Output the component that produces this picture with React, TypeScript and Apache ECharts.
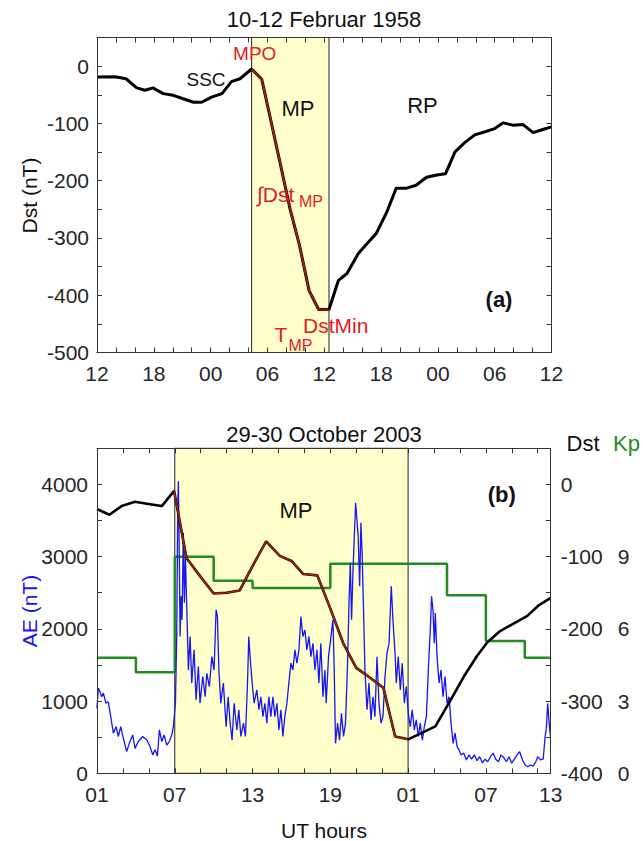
import React, { useEffect, useRef } from 'react';
import * as echarts from 'echarts';

const FONT = '"Liberation Sans", Arial, Helvetica, sans-serif';
const AXIS_COLOR = '#333333';
const LABEL_COLOR = '#262626';
const RED_TEXT = '#e31b23';
const BLUE = '#1515f5';
const GREEN = '#228b22';
const SHADE = '#ffffcc';
const MP_LINE = '#a02018';

// ---------- Panel (a): 10-12 Februar 1958 (hours since 12 UT, 10 Feb) ----------
const febTickLabels = ['12', '18', '00', '06', '12', '18', '00', '06', '12'];
const febMainPhaseHours = [16.33, 24.5];
const febDstBefore: number[][] = [
  [0, -19], [1.9, -18.5], [3.06, -22], [4.2, -38], [5.07, -42], [5.9, -38], [7.0, -48],
  [8.05, -51], [9.1, -57], [10.2, -63], [11.05, -63], [12.1, -54], [13.2, -48], [14.2, -27],
  [15.1, -22], [16.33, -5],
];
const febDstMainPhase: number[][] = [
  [16.33, -5], [17.4, -23], [18.4, -98], [19.4, -174], [20.4, -250], [21.4, -314],
  [22.4, -392], [23.4, -425], [24.5, -425],
];
const febDstRecovery: number[][] = [
  [24.5, -425], [25.5, -374], [26.4, -362], [27.6, -327], [28.5, -310], [29.5, -292],
  [30.6, -255], [31.6, -213], [32.7, -213], [33.7, -208], [34.8, -194], [35.9, -190],
  [36.8, -188], [37.8, -150], [38.8, -134], [39.9, -120], [40.9, -115], [42, -109],
  [42.9, -99], [43.9, -103], [45, -102], [46.06, -116], [47, -111], [48, -106],
];

// ---------- Panel (b): 29-30 October 2003 (hours since 01 UT, 29 Oct) ----------
const octTickHours = [0, 6, 12, 18, 24, 30, 35];
const octTickLabels = ['01', '07', '13', '19', '01', '07', '13'];
const octMainPhaseHours = [6, 24];
const octDstBefore: number[][] = [
  [0, -34], [0.95, -42], [1.9, -30], [2.93, -24], [3.96, -27], [5.0, -30], [5.95, -9],
];
const octDstMainPhase: number[][] = [
  [5.95, -9], [6.9, -102], [7.95, -127], [9, -151], [10, -150], [11, -147], [12, -113],
  [13.05, -79], [14.1, -99], [15, -106], [15.9, -124], [17, -126], [18, -172], [19, -220],
  [20, -254], [21.1, -268], [22.1, -282], [23, -349], [24, -353],
];
const octDstRecovery: number[][] = [
  [24, -353], [24.94, -345], [26.1, -335], [27.3, -298], [28.3, -266], [29.3, -238],
  [30.1, -219], [31.1, -203], [32.1, -193], [33.2, -182], [34.1, -167], [35, -157],
];
const octKpHours = [0, 3, 6, 9, 12, 15, 18, 21, 24, 27, 30, 33, 35];
const octKpValues = [4.8, 4.2, 9, 8, 7.7, 7.7, 8.7, 8.7, 8.7, 7.4, 5.5, 4.8, 4.8];
const octAE: number[][] = [
  [0, 900], [0.1, 1180], [0.23, 1130], [0.36, 1060], [0.49, 1110], [0.69, 970], [0.87, 990],
  [1.06, 785], [1.26, 555], [1.47, 645], [1.64, 510], [1.83, 645], [2.03, 485], [2.29, 300],
  [2.49, 415], [2.76, 530], [2.93, 345], [3.19, 440], [3.53, 510], [3.84, 460], [4.09, 370],
  [4.3, 255], [4.48, 325], [4.66, 240], [4.81, 600], [5.0, 440], [5.17, 530], [5.38, 390],
  [5.58, 440], [5.77, 530], [5.89, 645], [6.05, 970], [6.15, 1895], [6.23, 3745], [6.28, 4045],
  [6.36, 2820], [6.41, 1895], [6.49, 2450], [6.56, 2125], [6.66, 3330], [6.74, 2360],
  [6.82, 3005], [6.93, 2265], [7.05, 1430], [7.18, 1895], [7.31, 1250], [7.49, 1710],
  [7.64, 1015], [7.82, 1480], [7.95, 970], [8.16, 1340], [8.34, 1060], [8.47, 1385],
  [8.67, 1200], [8.86, 1615], [9.03, 1430], [9.19, 2265], [9.29, 2170], [9.4, 1430],
  [9.55, 970], [9.75, 1250], [9.96, 645], [10.12, 1060], [10.27, 695], [10.42, 460],
  [10.58, 970], [10.79, 600], [10.94, 880], [11.1, 510], [11.3, 695], [11.45, 510],
  [11.61, 1250], [11.71, 1895], [11.81, 1615], [11.97, 1250], [12.12, 970], [12.33, 1155],
  [12.49, 880], [12.64, 1060], [12.8, 785], [12.95, 970], [13.1, 695], [13.26, 1060],
  [13.41, 785], [13.57, 1060], [13.72, 785], [13.88, 970], [14.03, 600], [14.19, 880],
  [14.34, 510], [14.49, 785], [14.65, 970], [14.8, 1250], [14.96, 1525], [15.11, 1430],
  [15.27, 1710], [15.42, 1525], [15.58, 1710], [15.73, 2170], [15.88, 1895], [16.04, 1985],
  [16.19, 1710], [16.35, 1895], [16.5, 1615], [16.66, 1800], [16.81, 1430], [16.97, 1710],
  [17.12, 1250], [17.27, 1800], [17.43, 1060], [17.58, 1430], [17.68, 970], [17.86, 1615],
  [18.05, 1895], [18.2, 2125], [18.3, 1430], [18.4, 415], [18.56, 695], [18.71, 460],
  [18.86, 830], [19.02, 510], [19.17, 695], [19.33, 1525], [19.44, 2360], [19.54, 2915],
  [19.64, 2125], [19.75, 2820], [19.85, 3280], [19.95, 3745], [20.05, 3515], [20.15, 3280],
  [20.26, 2590], [20.36, 3470], [20.46, 3005], [20.56, 2265], [20.67, 1430], [20.83, 880],
  [20.98, 1250], [21.14, 740], [21.29, 1060], [21.44, 785], [21.6, 1615], [21.75, 970],
  [21.91, 695], [22.06, 785], [22.22, 1340], [22.37, 1665], [22.53, 1800], [22.7, 2590],
  [22.83, 2125], [22.99, 1665], [23.09, 1250], [23.24, 1615], [23.4, 1155], [23.55, 1525],
  [23.71, 970], [23.86, 1200], [24.02, 830], [24.17, 645], [24.32, 880], [24.48, 600],
  [24.63, 740], [24.79, 510], [24.94, 695], [25.1, 460], [25.25, 645], [25.41, 785],
  [25.56, 1430], [25.71, 1985], [25.81, 2450], [25.92, 2265], [26.02, 1800], [26.1, 2220],
  [26.23, 1615], [26.39, 1250], [26.54, 1430], [26.69, 1060], [26.85, 1340], [27.0, 970],
  [27.16, 1060], [27.31, 695], [27.47, 415], [27.62, 555], [27.78, 370], [27.93, 325],
  [28.08, 255], [28.29, 280], [28.49, 185], [28.7, 255], [28.9, 195], [29.11, 255],
  [29.32, 175], [29.52, 230], [29.73, 145], [29.94, 195], [30.14, 160], [30.35, 230],
  [30.56, 280], [30.76, 195], [30.97, 160], [31.17, 255], [31.37, 220], [31.58, 160],
  [31.79, 230], [31.99, 140], [32.2, 195], [32.41, 255], [32.61, 300], [32.82, 185],
  [33.03, 115], [33.23, 90], [33.44, 115], [33.64, 100], [33.85, 160], [34.0, 230],
  [34.21, 185], [34.42, 195], [34.57, 510], [34.67, 645], [34.77, 970], [34.88, 695],
  [34.98, 510],
];

function joinSegments(...segs: number[][][]): number[][] {
  const out: number[][] = [];
  segs.forEach((s, i) => s.forEach((p, j) => { if (i === 0 || j > 0) out.push(p); }));
  return out;
}

const tick = { show: true, inside: true, length: 5, lineStyle: { color: AXIS_COLOR, width: 1 } };
const line = { show: true, onZero: false, lineStyle: { color: AXIS_COLOR, width: 1 } };
const lbl = { color: LABEL_COLOR, fontSize: 21, fontFamily: FONT };

function txt(text: string, x: number, y: number, o: any = {}) {
  return {
    type: 'text', x, y, rotation: o.rotation || 0, silent: true, z: 100,
    style: {
      text,
      fill: o.color || '#111',
      font: `${o.bold ? 'bold ' : ''}${o.size || 21}px ${FONT}`,
      align: o.align || 'center',
      verticalAlign: 'middle',
      textAlign: o.align || 'center',
      textVerticalAlign: 'middle',
    },
  };
}

export default function App() {
  const ref = useRef<HTMLDivElement>(null);
  useEffect(() => {
    if (!ref.current) return;
    const chart = echarts.init(ref.current, undefined, { renderer: 'svg' });
    const option: any = {
      animation: false,
      backgroundColor: '#ffffff',
      grid: [
        { left: 97, top: 37.5, width: 454.5, height: 315, containLabel: false },
        { left: 97, top: 448.3, width: 453.7, height: 325, containLabel: false },
      ],
      xAxis: [
        {
          type: 'value', gridIndex: 0, position: 'bottom', min: 0, max: 48, interval: 2, z: 5,
          axisLine: line, axisTick: tick, splitLine: { show: false },
          axisLabel: {
            ...lbl, margin: 10,
            formatter: (v: number) => (v % 6 === 0 ? febTickLabels[v / 6] : ''),
          },
        },
        {
          type: 'value', gridIndex: 0, position: 'top', min: 0, max: 48, interval: 2, z: 5,
          axisLine: line, axisTick: tick, splitLine: { show: false }, axisLabel: { show: false },
        },
        {
          type: 'value', gridIndex: 1, position: 'bottom', min: 0, max: 35, interval: 2, z: 5,
          axisLine: line, axisTick: tick, splitLine: { show: false },
          axisLabel: {
            ...lbl, margin: 11, showMaxLabel: true, showMinLabel: true,
            formatter: (v: number) => {
              const i = octTickHours.indexOf(v);
              return i >= 0 ? octTickLabels[i] : '';
            },
          },
        },
        {
          type: 'value', gridIndex: 1, position: 'top', min: 0, max: 35, interval: 2, z: 5,
          axisLine: line, axisTick: tick, splitLine: { show: false }, axisLabel: { show: false },
        },
      ],
      yAxis: [
        {
          type: 'value', gridIndex: 0, position: 'left', min: -500, max: 50, interval: 50, z: 5,
          axisLine: line, axisTick: tick, splitLine: { show: false },
          axisLabel: {
            ...lbl, margin: 8,
            formatter: (v: number) => (v % 100 === 0 && v <= 0 ? String(v) : ''),
          },
        },
        {
          type: 'value', gridIndex: 0, position: 'right', min: -500, max: 50, interval: 50, z: 5,
          axisLine: line, axisTick: tick, splitLine: { show: false }, axisLabel: { show: false },
        },
        {
          type: 'value', gridIndex: 1, position: 'left', min: 0, max: 4500, interval: 500, z: 5,
          axisLine: line, axisTick: tick, splitLine: { show: false },
          axisLabel: {
            ...lbl, margin: 9,
            formatter: (v: number) => (v % 1000 === 0 ? String(v) : ''),
          },
        },
        {
          type: 'value', gridIndex: 1, position: 'right', min: -400, max: 50, interval: 50, z: 5,
          axisLine: line, axisTick: tick, splitLine: { show: false },
          axisLabel: {
            ...lbl, margin: 10,
            formatter: (v: number) => (v % 100 === 0 && v <= 0 ? String(v) : ''),
          },
        },
        {
          type: 'value', gridIndex: 1, position: 'right', min: 0, max: 13.5, interval: 3, z: 5,
          axisLine: { show: false }, axisTick: { show: false }, splitLine: { show: false },
          axisLabel: {
            ...lbl, margin: 67,
            formatter: (v: number) => (v <= 9 && v % 3 === 0 ? String(v) : ''),
          },
        },
      ],
      series: [
        {
          type: 'line', xAxisIndex: 0, yAxisIndex: 0, symbol: 'none', z: 2,
          data: joinSegments(febDstBefore, febDstMainPhase, febDstRecovery),
          lineStyle: { color: '#000', width: 3 },
          markArea: {
            silent: true,
            itemStyle: { color: SHADE, borderColor: '#222', borderWidth: 1 },
            data: [[{ xAxis: febMainPhaseHours[0] }, { xAxis: febMainPhaseHours[1] }]],
          },
        },
        {
          type: 'line', xAxisIndex: 0, yAxisIndex: 0, symbol: 'none', z: 3,
          data: febDstMainPhase, lineStyle: { color: MP_LINE, width: 1.8 },
        },
        {
          type: 'line', xAxisIndex: 2, yAxisIndex: 4, symbol: 'none', z: 2, step: 'end',
          data: octKpHours.map((h, i) => [h, octKpValues[i]]),
          lineStyle: { color: GREEN, width: 2.5 },
          markArea: {
            silent: true,
            itemStyle: { color: SHADE, borderColor: '#222', borderWidth: 1 },
            data: [[{ xAxis: octMainPhaseHours[0] }, { xAxis: octMainPhaseHours[1] }]],
          },
        },
        {
          type: 'line', xAxisIndex: 2, yAxisIndex: 2, symbol: 'none', z: 2,
          data: octAE, lineStyle: { color: BLUE, width: 1.3 },
        },
        {
          type: 'line', xAxisIndex: 2, yAxisIndex: 3, symbol: 'none', z: 3,
          data: joinSegments(octDstBefore, octDstMainPhase, octDstRecovery),
          lineStyle: { color: '#000', width: 2.6 },
        },
        {
          type: 'line', xAxisIndex: 2, yAxisIndex: 3, symbol: 'none', z: 4,
          data: octDstMainPhase, lineStyle: { color: MP_LINE, width: 1.7 },
        },
      ],
      graphic: [
        txt('10-12 Februar 1958', 324, 19.5, { size: 22 }),
        txt('29-30 October 2003', 324, 434, { size: 22 }),
        txt('Dst (nT)', 29, 195.5, { rotation: Math.PI / 2 }),
        txt('AE (nT)', 29, 611, { rotation: Math.PI / 2, color: BLUE }),
        txt('UT hours', 324, 830),
        txt('SSC', 206, 79, { size: 19 }),
        txt('MPO', 254.7, 53.7, { size: 19, color: RED_TEXT }),
        txt('MP', 298, 108, { size: 22 }),
        txt('RP', 422.5, 105, { size: 22 }),
        txt('\u222BDst', 257, 194, { align: 'left', color: RED_TEXT }),
        txt('MP', 299, 201.5, { align: 'left', size: 16, color: RED_TEXT }),
        txt('T', 274.5, 334, { align: 'left', color: RED_TEXT }),
        txt('MP', 288.5, 345.5, { align: 'left', size: 16, color: RED_TEXT }),
        txt('DstMin', 303, 325, { align: 'left', color: RED_TEXT }),
        txt('(a)', 499, 299.5, { bold: true, size: 22 }),
        txt('MP', 296, 510.5, { size: 22 }),
        txt('(b)', 501.7, 494, { bold: true, size: 22 }),
        txt('Dst', 566.5, 443, { align: 'left', size: 22 }),
        txt('Kp', 613, 443, { align: 'left', size: 22, color: GREEN }),
      ],
    };
    chart.setOption(option);
    return () => chart.dispose();
  }, []);
  return (
    <div
      ref={ref}
      style={{ position: 'absolute', left: 0, top: 0, width: 643, height: 841, background: '#fff' }}
    />
  );
}
